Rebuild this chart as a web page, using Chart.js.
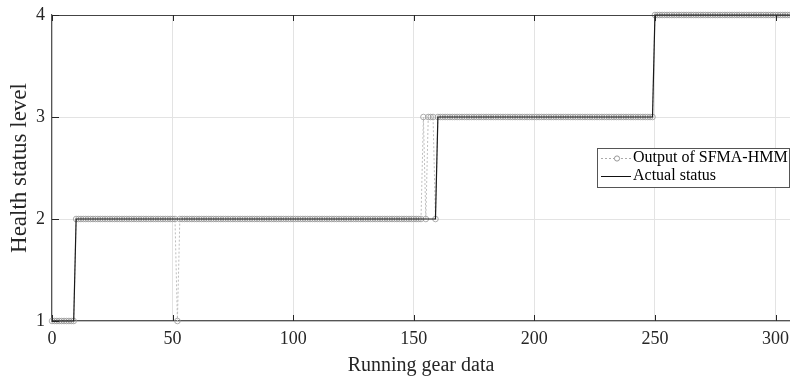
<!DOCTYPE html>
<html>
<head>
<meta charset="utf-8">
<script src="https://cdn.jsdelivr.net/npm/chart.js@4.4.1/dist/chart.umd.min.js"></script>
<style>
  html, body { margin: 0; padding: 0; background: #fff; }
  #wrap { width: 790px; height: 378px; }
</style>
</head>
<body>
<div id="wrap"><canvas id="c" width="790" height="378"></canvas></div>
<script>
// values, as runs of [level, how many samples]
const outputRuns = [[1, 10], [2, 42], [1, 1], [2, 101], [3, 1], [2, 1], [3, 3], [2, 1], [3, 90], [4, 57]];
const actualRuns = [[1, 10], [2, 150], [3, 90], [4, 57]];
const xTicks = [0, 50, 100, 150, 200, 250, 300];
const yTicks = [1, 2, 3, 4];
const seriesNames = ["Output of SFMA-HMM", "Actual status"];

function expand(runs) {
	const pts = [];
	for (const [level, n] of runs) {
		for (let k = 0; k < n; k++) pts.push({ x: pts.length, y: level });
	}
	return pts;
}

const FONT = "'Liberation Serif', 'Times New Roman', serif";
const AXIS = "#262626";

const extras = { // inward ticks, top border, legend box
	id: "extras",
	afterDraw: (chart) => {
		const { ctx, chartArea: a, scales } = chart;
		ctx.save();
		ctx.strokeStyle = "#444";
		ctx.lineWidth = 1;
		ctx.beginPath();
		ctx.moveTo(a.left, a.top + 0.5);
		ctx.lineTo(a.right, a.top + 0.5);
		ctx.stroke();
		ctx.strokeStyle = AXIS;
		ctx.beginPath();
		for (const v of xTicks) {
			const px = Math.round(scales.x.getPixelForValue(v)) + 0.5;
			ctx.moveTo(px, a.bottom);
			ctx.lineTo(px, a.bottom - 6);
			ctx.moveTo(px, a.top);
			ctx.lineTo(px, a.top + 6);
		}
		for (const v of yTicks) {
			const py = Math.round(scales.y.getPixelForValue(v)) + 0.5;
			ctx.moveTo(a.left, py);
			ctx.lineTo(a.left + 7, py);
		}
		ctx.stroke();

		// legend
		const lx = 597, ly = 148, lw = 192, lh = 39;
		ctx.fillStyle = "#fff";
		ctx.fillRect(lx, ly, lw, lh);
		ctx.strokeStyle = "#555";
		ctx.strokeRect(lx + 0.5, ly + 0.5, lw, lh);
		ctx.font = "16px " + FONT;
		ctx.fillStyle = "#000";
		ctx.textBaseline = "middle";
		ctx.fillText(seriesNames[0], 633, 158);
		ctx.fillText(seriesNames[1], 633, 176);
		ctx.strokeStyle = "#aaa";
		ctx.setLineDash([2, 2]);
		ctx.beginPath();
		ctx.moveTo(601, 158.5);
		ctx.lineTo(631, 158.5);
		ctx.stroke();
		ctx.setLineDash([]);
		ctx.fillStyle = "#fff";
		ctx.beginPath();
		ctx.arc(617, 158.5, 2.6, 0, Math.PI * 2);
		ctx.fill();
		ctx.strokeStyle = "#999";
		ctx.stroke();
		ctx.strokeStyle = "#111";
		ctx.beginPath();
		ctx.moveTo(601, 176.5);
		ctx.lineTo(631, 176.5);
		ctx.stroke();
		ctx.restore();
	}
};

new Chart(document.getElementById("c"), {
	type: "line",
	data: {
		datasets: [
			{
				label: seriesNames[1],
				data: expand(actualRuns),
				borderColor: "#1a1a1a",
				borderWidth: 1.2,
				pointRadius: 0,
				tension: 0,
				clip: false
			},
			{
				label: seriesNames[0],
				data: expand(outputRuns),
				borderColor: "#bdbdbd",
				borderWidth: 1,
				borderDash: [2, 2],
				pointRadius: 2.8,
				pointBorderWidth: 0.8,
				pointBorderColor: "#999",
				pointBackgroundColor: "rgba(255,255,255,0)",
				tension: 0,
				clip: false
			}
		]
	},
	options: {
		responsive: false,
		animation: false,
		parsing: false,
		layout: { autoPadding: false, padding: { top: 15, right: 0, left: 0, bottom: 0 } },
		plugins: { legend: { display: false }, tooltip: { enabled: false } },
		scales: {
			x: {
				type: "linear",
				min: 0,
				max: 306,
				afterFit: (s) => { s.height = 57; s.paddingLeft = 0; s.paddingRight = 0; },
				afterBuildTicks: (s) => { s.ticks = xTicks.map(v => ({ value: v })); },
				ticks: { color: AXIS, font: { family: FONT, size: 18 }, padding: 7, maxRotation: 0 },
				grid: { color: "#e3e3e3", drawTicks: false },
				border: { color: "#555", width: 1.2 },
				title: { display: true, text: "Running gear data", color: AXIS, font: { family: FONT, size: 20 }, padding: { top: 0, bottom: 0 } }
			},
			y: {
				min: 1,
				max: 4,
				afterFit: (s) => { s.width = 52; s.paddingTop = 0; s.paddingBottom = 0; },
				afterBuildTicks: (s) => { s.ticks = yTicks.map(v => ({ value: v })); },
				ticks: { color: AXIS, font: { family: FONT, size: 18 }, padding: 7 },
				grid: { color: "#e3e3e3", drawTicks: false },
				border: { color: "#555", width: 1.2 },
				title: { display: true, text: "Health status level", color: AXIS, font: { family: FONT, size: 23 }, padding: { top: 6, bottom: 0 } }
			}
		}
	},
	plugins: [extras]
});
</script>
</body>
</html>
